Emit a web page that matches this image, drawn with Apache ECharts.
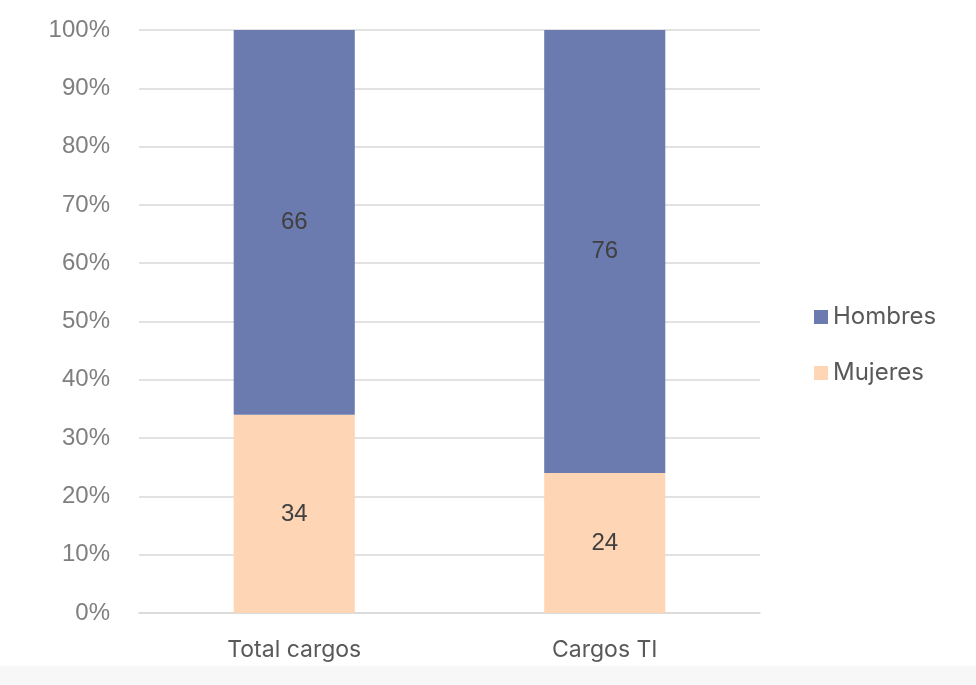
<!DOCTYPE html>
<html>
<head>
<meta charset="utf-8">
<script src="https://cdn.jsdelivr.net/npm/echarts@6/dist/echarts.min.js"></script>
<style>
  html, body { margin: 0; padding: 0; background: #ffffff; }
  #chart { width: 976px; height: 685px; }
</style>
</head>
<body>
<div id="chart"></div>
<script>
// Share of positions by gender (percent)
const categories = ['Total cargos', 'Cargos TI'];
const mujeres = [34, 24];
const hombres = [66, 76];
const seriesNames = ['Hombres', 'Mujeres'];

const chart = echarts.init(document.getElementById('chart'), null, { renderer: 'canvas' });

const labelStyle = {
  show: true,
  position: 'inside',
  color: '#404040',
  fontSize: 24,
  fontFamily: 'Liberation Sans, Arial, sans-serif'
};

chart.setOption({
  animation: false,
  backgroundColor: '#ffffff',
  graphic: [{
    type: 'rect',
    left: 0,
    bottom: 0,
    shape: { width: 976, height: 19 },
    style: { fill: '#f7f7f7' },
    z: -1
  }],
  grid: { left: 139, right: 216, top: 30, bottom: 72 },
  legend: {
    data: seriesNames,
    orient: 'vertical',
    left: 809,
    top: 300,
    itemWidth: 14,
    itemHeight: 14,
    itemGap: 32,
    icon: 'rect',
    textStyle: { color: '#595959', fontSize: 24, fontFamily: 'Inter, sans-serif' }
  },
  xAxis: {
    type: 'category',
    data: categories,
    axisTick: { show: false },
    axisLine: { lineStyle: { color: '#d9d9d9', width: 1.5 } },
    axisLabel: { color: '#595959', fontSize: 23, fontFamily: 'Inter, sans-serif', margin: 26 }
  },
  yAxis: {
    type: 'value',
    min: 0,
    max: 100,
    interval: 10,
    axisLine: { show: false },
    axisTick: { show: false },
    splitLine: { lineStyle: { color: '#d9d9d9', width: 1.5 } },
    axisLabel: {
      formatter: '{value}%',
      color: '#7f7f7f',
      fontSize: 24,
      fontFamily: 'Liberation Sans, Arial, sans-serif',
      margin: 29
    }
  },
  series: [
    {
      name: 'Mujeres',
      type: 'bar',
      stack: 'total',
      data: mujeres,
      barWidth: '39%',
      itemStyle: { color: '#fed5b5' },
      label: labelStyle
    },
    {
      name: 'Hombres',
      type: 'bar',
      stack: 'total',
      data: hombres,
      barWidth: '39%',
      itemStyle: { color: '#6b7baf' },
      label: labelStyle
    }
  ]
});
</script>
</body>
</html>
